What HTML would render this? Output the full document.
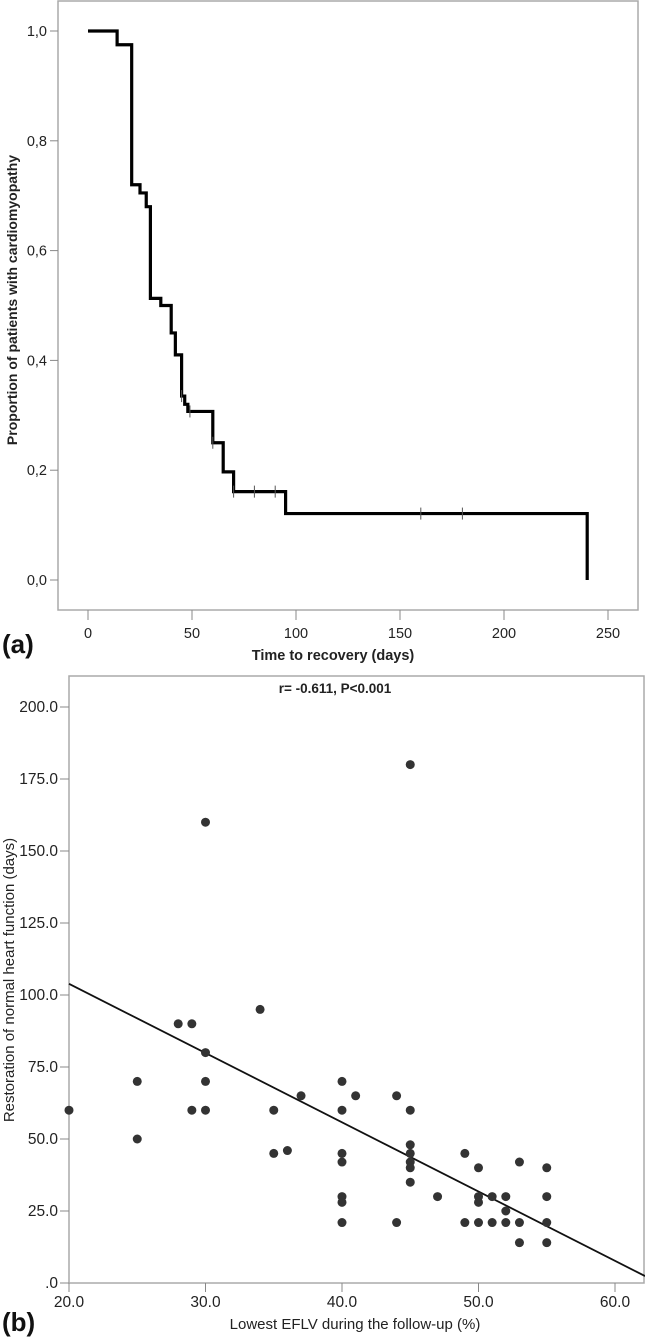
<!DOCTYPE html>
<html><head><meta charset="utf-8"><style>
html,body{margin:0;padding:0;background:#fff;}
svg{display:block;font-family:"Liberation Sans",Arial,sans-serif;}
</style></head><body>
<svg id="svg" width="645" height="1339" viewBox="0 0 645 1339" xmlns="http://www.w3.org/2000/svg">
<g id="topchart"></g>
<g id="botchart"></g>
<text x="2" y="653" font-size="26" font-weight="bold" fill="#111">(a)</text>
<text x="2" y="1331" font-size="26" font-weight="bold" fill="#111">(b)</text>
</svg>
<script>
// ---- survival data ----
const kmTimes = [0, 14, 21, 25, 28, 30, 35, 40, 42, 45, 46.5, 48, 60, 65, 70, 95, 240];
const kmProps = [1.0, 0.975, 0.72, 0.705, 0.68, 0.513, 0.50, 0.45, 0.41, 0.335, 0.32, 0.307, 0.25, 0.197, 0.161, 0.121, 0.0];
const censorTimes = [45, 49, 60, 70, 80, 90, 160, 180];
const kmXTicks = [0, 50, 100, 150, 200, 250];
const kmYTicks = [0, 0.2, 0.4, 0.6, 0.8, 1.0];
// ---- scatter data ----
const efX = [20,25,25,28,29,29,30,30,30,30,34,35,35,36,37,40,40,40,40,40,40,40,41,44,44,45,45,45,45,45,45,45,47,49,49,50,50,50,50,51,51,52,52,52,53,53,53,55,55,55,55];
const daysY = [60,70,50,90,90,60,80,70,60,160,95,60,45,46,65,70,60,45,42,30,28,21,65,65,21,180,60,48,45,42,40,35,30,45,21,40,30,28,21,30,21,30,25,21,42,21,14,40,30,21,14];
const fitIntercept = 152.0;
const fitSlope = -2.405;
const scXTicks = [20, 30, 40, 50, 60];
const scYTicks = [0, 25, 50, 75, 100, 125, 150, 175, 200];

const NS = "http://www.w3.org/2000/svg";
function mk(parent, tag, attrs, text){
  const e = document.createElementNS(NS, tag);
  for (const k in attrs) e.setAttribute(k, attrs[k]);
  if (text !== undefined) e.textContent = text;
  parent.appendChild(e);
  return e;
}
// ---------- top chart ----------
const topG = document.getElementById('topchart');
const kx = t => 88 + t * 2.08;
const ky = p => 580 - p * 549;
let f = mk(topG, 'rect', {x:58, y:1, width:580, height:609, fill:'none', stroke:'#aaa', 'stroke-width':1.5});


kmXTicks.forEach(t => {
  let l = mk(topG, 'line', {x1:kx(t), x2:kx(t), y1:610, y2:620, stroke:'#888'});
  
  
  let s = mk(topG, 'text', {x:kx(t), y:638, 'font-size':14.5, 'text-anchor':'middle', fill:'#222'}, String(t));
  
  
});
kmYTicks.forEach(p => {
  let l = mk(topG, 'line', {x1:50, x2:58, y1:ky(p), y2:ky(p), stroke:'#888'});
  
  
  let s = mk(topG, 'text', {x:47, y:ky(p)+5, 'font-size':14.5, 'text-anchor':'end', fill:'#222'}, p.toFixed(1).replace('.', ','));
  
  
});
let xt = mk(topG, 'text', {x:333, y:660, 'font-size':14.5, 'font-weight':'bold', 'text-anchor':'middle', fill:'#222'}, 'Time to recovery (days)');


let yt = mk(topG, 'text', {x:0, y:0, 'font-size':14, 'font-weight':'bold', 'text-anchor':'middle', fill:'#222', transform:'translate(17,300) rotate(-90)'}, 'Proportion of patients with cardiomyopathy');


let d = 'M' + kx(kmTimes[0]) + ' ' + ky(kmProps[0]);
for (let i = 1; i < kmTimes.length; i++) {
  d += ' H' + kx(kmTimes[i]) + ' V' + ky(kmProps[i]);
}
let km = mk(topG, 'path', {d:d, fill:'none', stroke:'#000', 'stroke-width':3.2, 'stroke-linejoin':'miter'});


function kmAt(t){ let v = kmProps[0]; for (let i = 0; i < kmTimes.length; i++) if (kmTimes[i] <= t) v = kmProps[i]; return v; }
censorTimes.forEach(t => {
  const y = ky(kmAt(t));
  let c = mk(topG, 'line', {x1:kx(t), x2:kx(t), y1:y-6, y2:y+6, stroke:'#555', 'stroke-width':1});
  
  
});
// ---------- bottom chart ----------
const botG = document.getElementById('botchart');
const sx = v => 69 + (v - 20) * 13.65;
const sy = v => 1283 - v * 2.88;
let f2 = mk(botG, 'rect', {x:69, y:676, width:575, height:607, fill:'none', stroke:'#aaa', 'stroke-width':1.5});


scXTicks.forEach(v => {
  let l = mk(botG, 'line', {x1:sx(v), x2:sx(v), y1:1283, y2:1292, stroke:'#888'});
  
  
  let s = mk(botG, 'text', {x:sx(v), y:1307, 'font-size':15.5, 'text-anchor':'middle', fill:'#222'}, v.toFixed(1));
  
  
});
scYTicks.forEach(v => {
  let l = mk(botG, 'line', {x1:60, x2:69, y1:sy(v), y2:sy(v), stroke:'#888'});
  
  
  let s = mk(botG, 'text', {x:58, y:sy(v)+5, 'font-size':15.5, 'text-anchor':'end', fill:'#222'}, v === 0 ? '.0' : v.toFixed(1));
  
  
});
let xt2 = mk(botG, 'text', {x:355, y:1329, 'font-size':15, 'text-anchor':'middle', fill:'#222'}, 'Lowest EFLV during the follow-up (%)');


let yt2 = mk(botG, 'text', {x:0, y:0, 'font-size':15, 'text-anchor':'middle', fill:'#222', transform:'translate(14,980) rotate(-90)'}, 'Restoration of normal heart function (days)');


let rt = mk(botG, 'text', {x:335, y:693, 'font-size':13.5, 'font-weight':'bold', 'text-anchor':'middle', fill:'#222'}, 'r= -0.611, P<0.001');


const fx0 = 20, fx1 = 62.2;
let fit = mk(botG, 'line', {x1:sx(fx0), y1:sy(fitIntercept + fitSlope*fx0), x2:sx(fx1), y2:sy(fitIntercept + fitSlope*fx1), stroke:'#111', 'stroke-width':1.8});


efX.forEach((v, i) => {
  let c = mk(botG, 'circle', {cx:sx(v), cy:sy(daysY[i]), r:4.5, fill:'#333'});
  
  
});
</script>
</body></html>
